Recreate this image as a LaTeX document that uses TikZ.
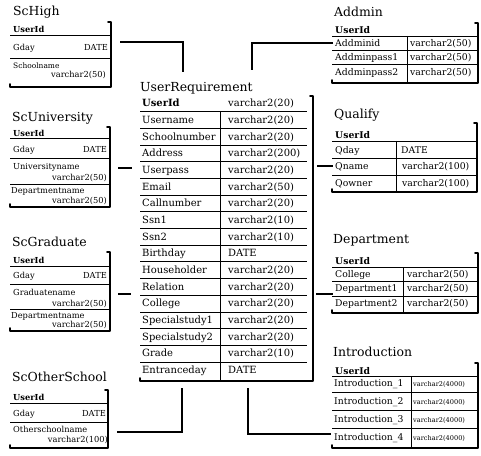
\documentclass[tikz,border=0pt]{standalone}
\usepackage{fontspec}
\setmainfont{DejaVu Serif}
\newcommand\ftitle{\fontsize{12.5}{13}\selectfont}
\newcommand\frow{\fontsize{10}{11}\selectfont}
\newcommand\fsm{\fontsize{8.3}{9}\selectfont}
\newcommand\fmd{\fontsize{9.3}{10}\selectfont}
\newcommand\ftiny{\fontsize{6.6}{7}\selectfont}
\newcommand\tblframe[4]{\draw[tframe] ({#2-3},#3) -- (#2,#3) -- (#2,#4) -- (#1,#4) -- (#1,{#4-3});}
\begin{document}
\begin{tikzpicture}[x=1bp,y=-1bp,
 ttl/.style={anchor=west,inner sep=0,font=\ftitle,text height=.73em,text depth=0pt},
 lt/.style={anchor=west,inner sep=0,text height=.73em,text depth=0pt},
 rt/.style={anchor=east,inner sep=0,text height=.73em,text depth=0pt},
 rowline/.style={line width=0.5pt},
 hrow/.style={line width=0.9pt},
 tframe/.style={line width=1.6pt,line cap=round,line join=round},
 lnk/.style={line width=1.1pt}]
\useasboundingbox (0,0) rectangle (481,456);

% ---------- ScHigh ----------
\node[ttl] (hi-t) at (13,12) {ScHigh};
\node[lt,font=\fsm\bfseries] (hi-id) at (13,29) {UserId};
\draw[hrow] (10,35) -- (111,35);
\node[lt,font=\fsm] (hi-g) at (13,47) {Gday};
\node[rt,font=\fsm] (hi-gt) at (108,47) {DATE};
\draw[rowline] (10,58) -- (111,58);
\node[lt,font=\fontsize{7.5}{8}\selectfont] (hi-s) at (13,65) {Schoolname};
\node[rt,font=\fsm] (hi-st) at (106,74) {varchar2(50)};
\tblframe{10}{111}{22}{87}

% ---------- ScUniversity ----------
\node[ttl] (un-t) at (12,118) {ScUniversity};
\node[lt,font=\fsm\bfseries] (un-id) at (13,133) {UserId};
\draw[hrow] (10,138.5) -- (110,138.5);
\node[lt,font=\fsm] (un-g) at (13,149) {Gday};
\node[rt,font=\fsm] (un-gt) at (107,149) {DATE};
\draw[rowline] (10,158) -- (110,158);
\node[lt,font=\fsm] (un-u) at (13,166) {Universityname};
\node[rt,font=\fsm] (un-ut) at (107,177) {varchar2(50)};
\draw[rowline] (10,184) -- (110,184);
\node[lt,font=\fsm] (un-d) at (11,190) {Departmentname};
\node[rt,font=\fsm] (un-dt) at (107,200) {varchar2(50)};
\tblframe{10}{110}{127}{207}

% ---------- ScGraduate ----------
\node[ttl] (gr-t) at (12,243) {ScGraduate};
\node[lt,font=\fsm\bfseries] (gr-id) at (13,260) {UserId};
\draw[hrow] (10,266) -- (110,266);
\node[lt,font=\fsm] (gr-g) at (13,275) {Gday};
\node[rt,font=\fsm] (gr-gt) at (107,275) {DATE};
\draw[rowline] (10,284) -- (110,284);
\node[lt,font=\fsm] (gr-u) at (13,292) {Graduatename};
\node[rt,font=\fsm] (gr-ut) at (107,303) {varchar2(50)};
\draw[rowline] (10,309) -- (110,309);
\node[lt,font=\fsm] (gr-d) at (11,315) {Departmentname};
\node[rt,font=\fsm] (gr-dt) at (107,324) {varchar2(50)};
\tblframe{10}{110}{252}{331}

% ---------- ScOtherSchool ----------
\node[ttl] (os-t) at (12,378) {ScOtherSchool};
\node[lt,font=\fsm\bfseries] (os-id) at (13,397) {UserId};
\draw[hrow] (10,403) -- (108,403);
\node[lt,font=\fsm] (os-g) at (13,413) {Gday};
\node[rt,font=\fsm] (os-gt) at (106,413) {DATE};
\draw[rowline] (10,422) -- (108,422);
\node[lt,font=\fsm] (os-u) at (13,429) {Otherschoolname};
\node[rt,font=\fsm] (os-ut) at (108,439) {varchar2(100)};
\tblframe{10}{108}{390}{448}

% ---------- UserRequirement ----------
\node[ttl] (ur-t) at (140,88) {UserRequirement};
\node[lt,font=\frow\bfseries] (ur-l0) at (142,103) {UserId};
\node[lt,font=\frow] (ur-r0) at (228,103) {varchar2(20)};
\foreach \a/\b [count=\i] in {Username/varchar2(20),Schoolnumber/varchar2(20),Address/varchar2(200),Userpass/varchar2(20),Email/varchar2(50),Callnumber/varchar2(20),Ssn1/varchar2(10),Ssn2/varchar2(10),Birthday/DATE,Householder/varchar2(20),Relation/varchar2(20),College/varchar2(20),Specialstudy1/varchar2(20),Specialstudy2/varchar2(20),Grade/varchar2(10),Entranceday/DATE}{
  \node[lt,font=\frow] (ur-l\i) at (142,{103+\i*16.69}) {\a};
  \node[lt,font=\frow] (ur-r\i) at (228,{103+\i*16.69}) {\b};
}
\foreach \i in {0,...,15}{
  \draw[rowline] (140,{111.5+\i*16.69}) -- (307,{111.5+\i*16.69});
}
\draw[line width=0.9pt] (220,111.5) -- (220,381);
\tblframe{140}{313}{96}{381}

% ---------- Addmin ----------
\node[ttl] (ad-t) at (334,13) {Addmin};
\node[lt,font=\fmd\bfseries] (ad-id) at (335,30) {UserId};
\draw[hrow] (332,36) -- (478,36);
\node[lt,font=\fmd] (ad-1) at (335,43) {Addminid};
\node[lt,font=\fmd] (ad-1t) at (410,43) {varchar2(50)};
\draw[rowline] (332,50) -- (478,50);
\node[lt,font=\fmd] (ad-2) at (335,57) {Addminpass1};
\node[lt,font=\fmd] (ad-2t) at (410,57) {varchar2(50)};
\draw[rowline] (332,64) -- (478,64);
\node[lt,font=\fmd] (ad-3) at (335,72) {Addminpass2};
\node[lt,font=\fmd] (ad-3t) at (410,72) {varchar2(50)};
\draw[line width=0.7pt] (407,36) -- (407,83);
\tblframe{332}{478}{23}{83}

% ---------- Qualify ----------
\node[ttl] (qu-t) at (334,115) {Qualify};
\node[lt,font=\fmd\bfseries] (qu-id) at (335,135) {UserId};
\draw[hrow] (332,141) -- (477,141);
\node[lt,font=\fmd] (qu-1) at (335,150) {Qday};
\node[lt,font=\fmd] (qu-1t) at (401,150) {DATE};
\draw[rowline] (332,158) -- (477,158);
\node[lt,font=\fmd] (qu-2) at (335,166) {Qname};
\node[lt,font=\fmd] (qu-2t) at (402,166) {varchar2(100)};
\draw[rowline] (332,175) -- (477,175);
\node[lt,font=\fmd] (qu-3) at (335,183) {Qowner};
\node[lt,font=\fmd] (qu-3t) at (402,183) {varchar2(100)};
\draw[line width=0.7pt] (396,141) -- (396,192);
\tblframe{332}{477}{123}{192}

% ---------- Department ----------
\node[ttl] (de-t) at (333,240) {Department};
\node[lt,font=\fmd\bfseries] (de-id) at (335,261) {UserId};
\draw[hrow] (332,267) -- (478,267);
\node[lt,font=\fmd] (de-1) at (335,274) {College};
\node[lt,font=\fmd] (de-1t) at (407,274) {varchar2(50)};
\draw[rowline] (332,281) -- (478,281);
\node[lt,font=\fmd] (de-2) at (335,288) {Department1};
\node[lt,font=\fmd] (de-2t) at (407,288) {varchar2(50)};
\draw[rowline] (332,296) -- (478,296);
\node[lt,font=\fmd] (de-3) at (335,303) {Department2};
\node[lt,font=\fmd] (de-3t) at (407,303) {varchar2(50)};
\draw[line width=0.7pt] (403,267) -- (403,313);
\tblframe{332}{478}{253}{313}

% ---------- Introduction ----------
\node[ttl] (in-t) at (333,353) {Introduction};
\node[lt,font=\fmd\bfseries] (in-id) at (335,371) {UserId};
\draw[hrow] (332,376) -- (478,376);
\foreach \i/\y in {1/383,2/401,3/419,4/437}{
  \node[lt,font=\fmd] (in-\i) at (334,\y) {Introduction\_\i};
  \node[lt,font=\ftiny] (in-\i t) at (413,\y) {varchar2(4000)};
}
\foreach \y in {392,410,428}{\draw[rowline] (332,\y) -- (478,\y);}
\draw[line width=0.7pt] (411,376) -- (411,448);
\tblframe{332}{478}{363}{448}

% ---------- connectors ----------
\coordinate (hiC) at (120,42);
\coordinate (urTL) at (183,72);
\coordinate (adC) at (333,43);
\coordinate (urTR) at (252,70);
\coordinate (unC) at (118,168);
\coordinate (urL1) at (132,168);
\coordinate (urR1) at (317,166);
\coordinate (quC) at (333,166);
\coordinate (grC) at (118,294);
\coordinate (urL2) at (131,294);
\coordinate (urR2) at (316,294);
\coordinate (deC) at (333,294);
\coordinate (osC) at (117,432);
\coordinate (urBL) at (182,388);
\coordinate (urBR) at (248,388);
\coordinate (inC) at (331,434);
\draw[lnk] (hiC) -| (urTL);
\draw[lnk] (adC) -| (urTR);
\draw[lnk] (unC) -- (urL1);
\draw[lnk] (urR1) -- (quC);
\draw[lnk] (grC) -- (urL2);
\draw[lnk] (urR2) -- (deC);
\draw[lnk] (osC) -| (urBL);
\draw[lnk] (urBR) |- (inC);
\end{tikzpicture}
\end{document}
